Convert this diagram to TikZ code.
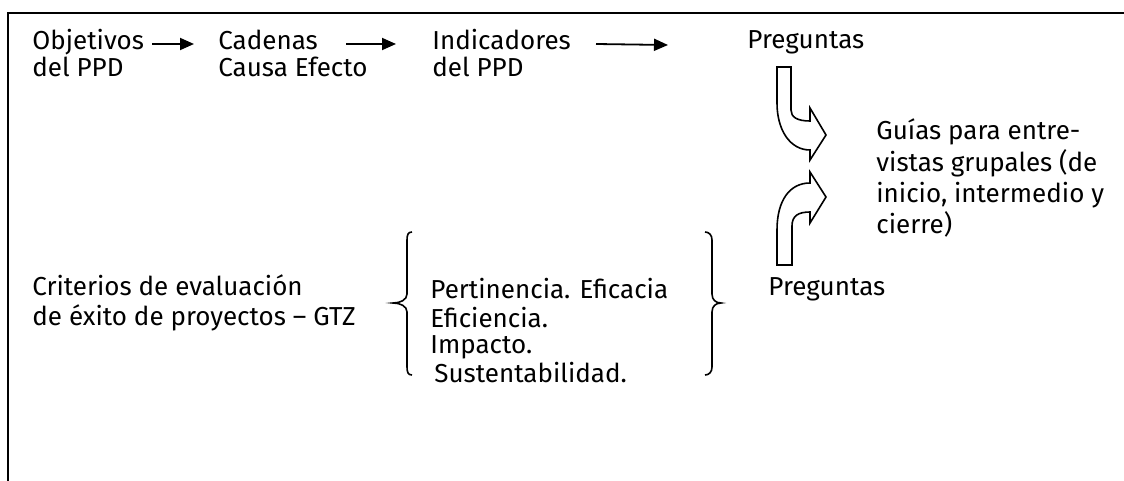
\documentclass[tikz,border=0pt]{standalone}
\usepackage{fontspec}
\setmainfont{Fira Sans}
\usetikzlibrary{arrows.meta,calc}
\begin{document}
\begin{tikzpicture}[x=0.5pt,y=-0.5pt,
  txt/.style={anchor=base west,inner sep=0pt,font=\fontsize{13}{15}\selectfont},
  arr/.style={line width=0.9pt,-{Triangle[length=7pt,width=6pt]}},
  frame/.style={line width=1pt},
  blk/.style={line width=0.8pt,line join=miter},
  brace/.style={line width=0.8pt}]
\useasboundingbox (0,0) rectangle (1124,481);
\draw[frame] (8,481) -- (8,13) -- (1124,13);
% top row
\node[txt] (o1) at (32,50) {Objetivos};
\node[txt] (o2) at (32,77) {del PPD};
\node[txt] (c1) at (218,50) {Cadenas};
\node[txt] (c2) at (218,77) {Causa Efecto};
\node[txt] (i1) at (432,50) {Indicadores};
\node[txt] (i2) at (432,77) {del PPD};
\node[txt] (p1) at (747,49) {Preguntas};
\draw[arr] ($(o1.base west)+(120,-6)$) -- ($(c1.base west)+(-24,-6)$);
\draw[arr] ($(c1.base west)+(128,-6)$) -- ($(i1.base west)+(-36,-6)$);
\draw[arr] ($(i1.base west)+(164,-6)$) -- ($(p1.base west)+(-79,-4)$);
% guides
\node[txt] (g1) at (876,140) {Guías para entre-};
\node[txt] (g2) at (876,171) {vistas grupales (de};
\node[txt] (g3) at (876,202) {inicio, intermedio y};
\node[txt] (g4) at (876,233) {cierre)};
% block arrows
\draw[blk] (777,67) -- (777,103) .. controls (777,130) and (790,150) .. (810,150)
  -- (810,160) -- (826,135) -- (810,108) -- (810,121)
  .. controls (797,121) and (791,117) .. (791,110) -- (791,67) -- cycle;
\draw[blk] (777,265) -- (777,230) .. controls (777,200) and (790,183) .. (810,183)
  -- (810,172) -- (826,197) -- (810,223) -- (810,212)
  .. controls (798,212) and (792,216) .. (792,226) -- (792,265) -- cycle;
% bottom row
\node[txt] (k1) at (32,295) {Criterios de evaluación};
\node[txt] (k2) at (32,325) {de éxito de proyectos – GTZ};
\node[txt] (e1) at (430,298) {Pertinencia. Eficacia};
\node[txt] (e2) at (430,327) {Eficiencia.};
\node[txt] (e3) at (430,353) {Impacto.};
\node[txt] (e4) at (434,382) {Sustentabilidad.};
\node[txt] (q) at (768,295) {Preguntas};
% braces
\draw[brace] (412,232) .. controls (408,232) and (407,235) .. (407,240) -- (407,294)
  .. controls (407,300) and (400,303) .. (393,303)
  .. controls (400,303) and (407,306) .. (407,312) -- (407,367)
  .. controls (407,372) and (408,375) .. (412,375);
\draw[brace] (705,232) .. controls (709,232) and (712,235) .. (712,240) -- (712,294)
  .. controls (712,300) and (716,303) .. (721,303)
  .. controls (716,303) and (712,306) .. (712,312) -- (712,367)
  .. controls (712,372) and (709,375) .. (705,375);
\end{tikzpicture}
\end{document}
